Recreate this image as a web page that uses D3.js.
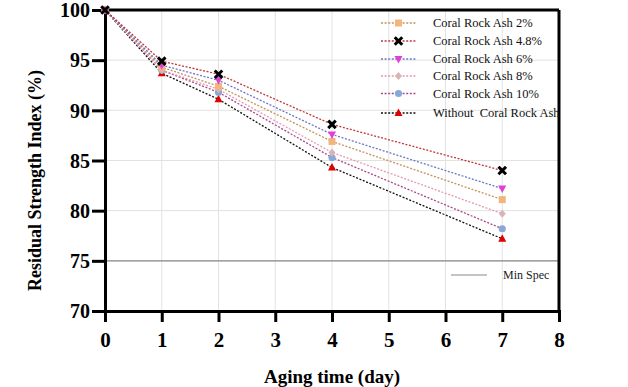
<!DOCTYPE html>
<html><head><meta charset="utf-8">
<script src="https://cdn.jsdelivr.net/npm/d3@7"></script>
<style>body{margin:0;background:#fff}svg{display:block}</style>
</head><body>
<svg id="c" width="628" height="387"></svg>
<script>
const days = [0, 1, 2, 4, 7];
const ash2 = [100, 94.3, 92.4, 86.9, 81.1];
const ash48 = [100, 94.9, 93.6, 88.6, 84.0];
const ash6 = [100, 94.5, 93.0, 87.6, 82.2];
const ash8 = [100, 94.0, 92.1, 85.8, 79.7];
const ash10 = [100, 94.0, 91.8, 85.3, 78.2];
const without = [100, 93.7, 91.1, 84.3, 77.2];
const minSpec = 75;
const xTicks = [0, 1, 2, 3, 4, 5, 6, 7, 8];
const yTicks = [70, 75, 80, 85, 90, 95, 100];
const seriesNames = ["Coral Rock Ash 2%", "Coral Rock Ash 4.8%", "Coral Rock Ash 6%", "Coral Rock Ash 8%", "Coral Rock Ash 10%", "Without  Coral Rock Ash"];

const series = [
  {name: seriesNames[0], values: ash2, line: "#c4915a", fill: "#f2b57e", sym: "square"},
  {name: seriesNames[1], values: ash48, line: "#c03838", fill: "#000000", sym: "cross"},
  {name: seriesNames[2], values: ash6, line: "#6c78c4", fill: "#e040d8", sym: "tridown"},
  {name: seriesNames[3], values: ash8, line: "#e498b0", fill: "#d8b4b4", sym: "diamond"},
  {name: seriesNames[4], values: ash10, line: "#a8488c", fill: "#88a8d8", sym: "circle"},
  {name: seriesNames[5], values: without, line: "#111111", fill: "#e00000", sym: "triangle"}
];

const svg = d3.select("#c");
const x = d3.scaleLinear().domain([0, 8]).range([105, 559]);
const y = d3.scaleLinear().domain([70, 100]).range([311, 10]);
const serif = "'Liberation Serif','Times New Roman',serif";

// grid
svg.append("g").selectAll("line.vg").data(xTicks.slice(1, -1)).join("line")
  .attr("x1", d => x(d)).attr("x2", d => x(d)).attr("y1", y(100)).attr("y2", y(70))
  .attr("stroke", "#e2e2e2").attr("stroke-width", 1);
svg.append("g").selectAll("line.hg").data(yTicks.slice(1, -1)).join("line")
  .attr("x1", x(0)).attr("x2", x(8)).attr("y1", d => y(d)).attr("y2", d => y(d))
  .attr("stroke", "#e2e2e2").attr("stroke-width", 1);

// min spec
svg.append("line").attr("x1", x(0)).attr("x2", x(8)).attr("y1", y(minSpec)).attr("y2", y(minSpec))
  .attr("stroke", "#8a8a8a").attr("stroke-width", 1.2);

// frame top/right
svg.append("line").attr("x1", x(0)).attr("x2", x(8)).attr("y1", y(100)).attr("y2", y(100)).attr("stroke", "#000").attr("stroke-width", 3);
svg.append("line").attr("x1", x(8)).attr("x2", x(8)).attr("y1", y(100)).attr("y2", y(70)).attr("stroke", "#000").attr("stroke-width", 3);

// axes
const xAxis = svg.append("g").attr("transform", `translate(0,${y(70)})`)
  .call(d3.axisBottom(x).tickValues(xTicks).tickFormat(d3.format("d")).tickSize(11).tickPadding(10));
const yAxis = svg.append("g").attr("transform", `translate(${x(0)},0)`)
  .call(d3.axisLeft(y).tickValues(yTicks).tickFormat(d3.format("d")).tickSize(13).tickPadding(2));
[xAxis, yAxis].forEach(g => {
  g.select(".domain").attr("stroke", "#000").attr("stroke-width", 3);
  g.selectAll(".tick line").attr("stroke", "#000").attr("stroke-width", 3);
  g.selectAll("text").attr("fill", "#000").attr("font-family", serif).attr("font-weight", "bold");
});
xAxis.selectAll("text").attr("font-size", 21);
yAxis.selectAll("text").attr("font-size", 20).attr("dy", "0.34em");

// axis titles
svg.append("text").attr("x", (x(0) + x(8)) / 2).attr("y", 383).attr("text-anchor", "middle")
  .attr("font-family", serif).attr("font-weight", "bold").attr("font-size", 19).text("Aging time (day)");
svg.append("text").attr("transform", `translate(41,${(y(100) + y(70)) / 2 + 20}) rotate(-90)`)
  .attr("text-anchor", "middle").attr("font-family", serif).attr("font-weight", "bold").attr("font-size", 18)
  .text("Residual Strength Index (%)");

function drawSym(g, s, cx, cy) {
  if (s.sym === "square") g.append("rect").attr("x", cx - 3.5).attr("y", cy - 3.5).attr("width", 7).attr("height", 7).attr("fill", s.fill);
  else if (s.sym === "circle") g.append("circle").attr("cx", cx).attr("cy", cy).attr("r", 3.6).attr("fill", s.fill);
  else if (s.sym === "diamond") g.append("path").attr("d", `M${cx},${cy-4}L${cx+3.5},${cy}L${cx},${cy+4}L${cx-3.5},${cy}Z`).attr("fill", s.fill);
  else if (s.sym === "triangle") g.append("path").attr("d", `M${cx},${cy-4.5}L${cx+4},${cy+3}L${cx-4},${cy+3}Z`).attr("fill", s.fill);
  else if (s.sym === "tridown") g.append("path").attr("d", `M${cx},${cy+4.5}L${cx+4},${cy-3}L${cx-4},${cy-3}Z`).attr("fill", s.fill);
  else if (s.sym === "cross") g.append("path").attr("d", `M${cx-2.7},${cy-2.7}L${cx+2.7},${cy+2.7}M${cx+2.7},${cy-2.7}L${cx-2.7},${cy+2.7}`)
    .attr("stroke", s.fill).attr("stroke-width", 3).attr("stroke-linecap", "square");
}

const lineGen = d3.line().x((d, i) => x(days[i])).y(d => y(d));
const order = [5, 4, 3, 0, 2, 1];
const lg = svg.append("g");
order.forEach(i => {
  const s = series[i];
  lg.append("path").attr("d", lineGen(s.values)).attr("fill", "none")
    .attr("stroke", s.line).attr("stroke-width", 1.3).attr("stroke-dasharray", "2,1.6");
});
order.forEach(i => {
  const s = series[i];
  const g = svg.append("g");
  s.values.forEach((v, j) => drawSym(g, s, x(days[j]), y(v)));
});

// legend
const legY = [23, 41, 59, 76, 93.5, 113];
series.forEach((s, i) => {
  const g = svg.append("g");
  const ly = legY[i];
  g.append("line").attr("x1", 381).attr("x2", 416).attr("y1", ly).attr("y2", ly)
    .attr("stroke", s.line).attr("stroke-width", 1.3).attr("stroke-dasharray", "2,1.6");
  drawSym(g, s, 398.5, ly);
  g.append("text").attr("x", 433).attr("y", ly + 4.3).attr("font-family", serif).attr("font-size", 12.5)
    .attr("fill", "#111").attr("xml:space", "preserve").style("white-space", "pre").text(s.name);
});
svg.append("line").attr("x1", 451).attr("x2", 487).attr("y1", 275).attr("y2", 275).attr("stroke", "#8a8a8a").attr("stroke-width", 1.2);
svg.append("text").attr("x", 503).attr("y", 279).attr("font-family", serif).attr("font-size", 12).attr("fill", "#222").text("Min Spec");
</script>
</body></html>
